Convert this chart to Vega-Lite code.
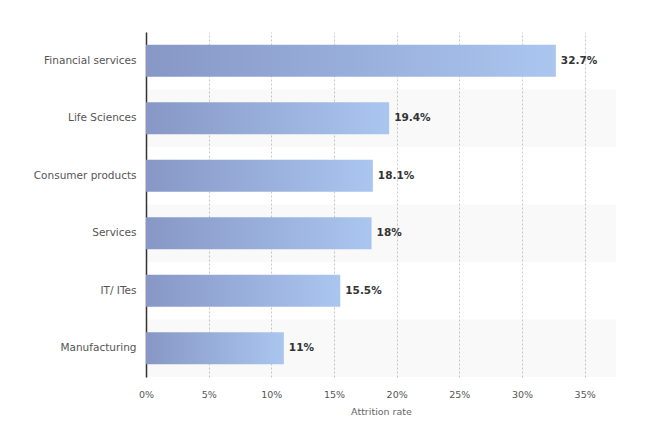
{
  "$schema": "https://vega.github.io/schema/vega-lite/v6.json",
  "width": 470,
  "height": 345,
  "autosize": "none",
  "padding": {"left": 146, "top": 32, "right": 34, "bottom": 49},
  "background": "white",
  "config": {"view": {"stroke": null}, "font": "DejaVu Sans"},
  "data": {"values": [
    {"sector": "Financial services", "value": 32.7},
    {"sector": "Life Sciences", "value": 19.4},
    {"sector": "Consumer products", "value": 18.1},
    {"sector": "Services", "value": 18},
    {"sector": "IT/ ITes", "value": 15.5},
    {"sector": "Manufacturing", "value": 11}
  ]},
  "transform": [
    {"window": [{"op": "row_number", "as": "rank"}]},
    {"calculate": "datum.value + '%'", "as": "label"}
  ],
  "encoding": {
    "y": {
      "field": "sector", "type": "nominal",
      "sort": ["Financial services", "Life Sciences", "Consumer products", "Services", "IT/ ITes", "Manufacturing"],
      "scale": {"paddingInner": 0, "paddingOuter": 0},
      "axis": {"title": null, "ticks": false, "labelPadding": 10, "labelFontSize": 10.5, "labelColor": "#555", "domainColor": "#333", "domainWidth": 1.5}
    }
  },
  "layer": [
    {
      "transform": [{"filter": "datum.rank % 2 == 0"}],
      "mark": {"type": "bar", "height": {"band": 1}, "color": "#000", "opacity": 0.025},
      "encoding": {
        "x": {"datum": 0, "type": "quantitative"},
        "x2": {"datum": 37.5}
      }
    },
    {
      "mark": {"type": "bar", "height": {"band": 0.56}, "color": {"gradient": "linear", "x1": 0, "x2": 1, "y1": 0, "y2": 0, "stops": [{"offset": 0, "color": "#8797c6"}, {"offset": 1, "color": "#aac6ef"}]}},
      "encoding": {
        "x": {
          "field": "value", "type": "quantitative",
          "scale": {"domain": [0, 37.5], "nice": false},
          "axis": {"title": "Attrition rate", "titleFontSize": 9.5, "titleFontWeight": "normal", "titleColor": "#666", "titlePadding": 8,
                   "values": [0, 5, 10, 15, 20, 25, 30, 35], "labelExpr": "datum.value + '%'", "labelFontSize": 9.5, "labelColor": "#555", "labelFlush": false,
                   "domain": false, "ticks": false, "labelPadding": 12, "grid": true, "gridDash": [2, 2], "gridColor": "#c8c8c8", "gridWidth": 1}
        }
      }
    },
    {
      "mark": {"type": "text", "align": "left", "baseline": "middle", "dx": 5, "fontWeight": "bold", "fontSize": 10.5, "color": "#333"},
      "encoding": {
        "x": {"field": "value", "type": "quantitative"},
        "text": {"field": "label"}
      }
    }
  ]
}
